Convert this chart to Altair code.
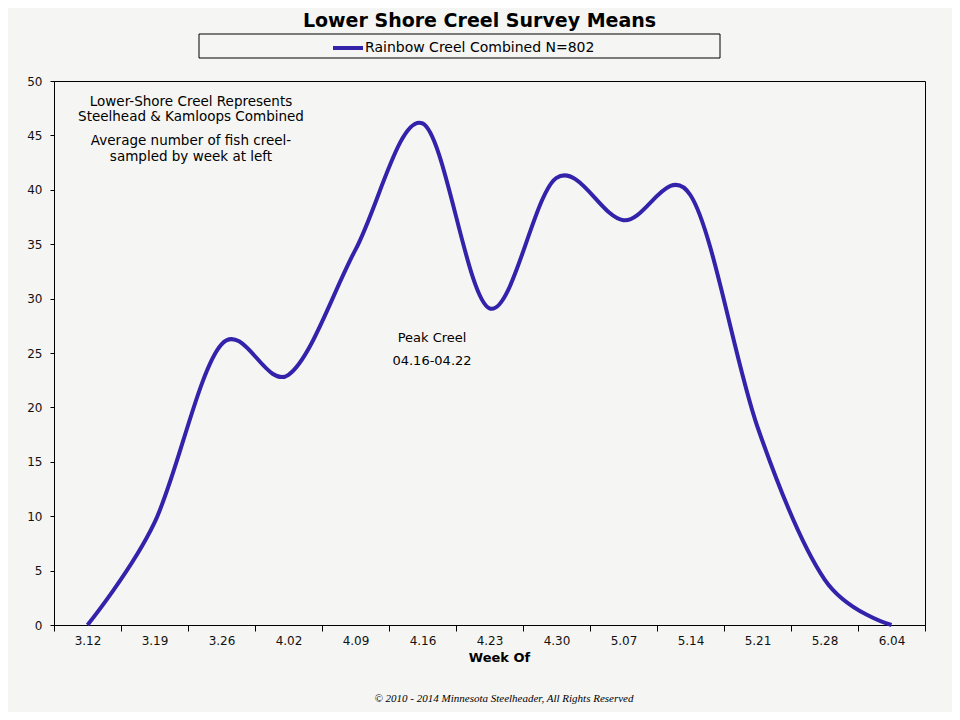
import altair as alt
import pandas as pd

# weekly mean creel counts
weeks = ["3.12", "3.19", "3.26", "4.02", "4.09", "4.16", "4.23",
         "4.30", "5.07", "5.14", "5.21", "5.28", "6.04"]
means = [0, 9.4, 25.8, 23.0, 34.5, 46.1, 29.1, 41.1, 37.2, 39.5, 18.2, 4.2, 0]
series_name = "Rainbow Creel Combined N=802"

note_top = ["Lower-Shore  Creel Represents", "Steelhead & Kamloops Combined"]
note_mid = ["Average  number  of  fish  creel-", "sampled by week at left"]
note_peak = ["Peak Creel", "04.16-04.22"]
copyright_txt = "\u00a9 2010 - 2014  Minnesota Steelheader,  All Rights Reserved"

df = pd.DataFrame({"week": weeks, "mean": means, "series": series_name})
one = pd.DataFrame({"k": [0]})

W, H = 871, 544
FONT = "DejaVu Sans"
LINE_COLOR = "#3322aa"

line = (
    alt.Chart(df)
    .mark_line(interpolate="cardinal", strokeWidth=4)
    .encode(
        x=alt.X("week:O", sort=weeks,
                scale=alt.Scale(type="band", paddingInner=0, paddingOuter=0),
                axis=alt.Axis(title="Week Of", tickBand="extent", labelAngle=0,
                              titleX=445, titleY=32, titleBaseline="middle")),
        y=alt.Y("mean:Q", scale=alt.Scale(domain=[0, 50], nice=False),
                axis=alt.Axis(title=None, values=list(range(0, 51, 5)))),
        color=alt.Color("series:N",
                        scale=alt.Scale(domain=[series_name], range=[LINE_COLOR]),
                        legend=alt.Legend(title=None, orient="none", legendX=277, legendY=-50,
                                          symbolType="stroke", symbolSize=900,
                                          symbolStrokeWidth=4, padding=0, labelOffset=0,
                                          labelLimit=400, labelFont=FONT, labelFontSize=14,
                                          labelColor="black")),
    )
)

# frame round the legend
legend_box = (
    alt.Chart(one)
    .mark_rect(fillOpacity=0, stroke="black", strokeWidth=1)
    .encode(x=alt.value(145), x2=alt.value(666), y=alt.value(-47), y2=alt.value(-23))
)


def note(lines, x, y, lh, size):
    return (
        alt.Chart(one)
        .mark_text(text=lines, font=FONT, fontSize=size, color="black",
                   align="center", baseline="middle", lineHeight=lh)
        .encode(x=alt.value(x), y=alt.value(y))
    )


copyright_mark = (
    alt.Chart(one)
    .mark_text(text=copyright_txt, font="Liberation Sans Narrow", fontSize=11,
               fontStyle="italic", color="black", align="center", baseline="middle")
    .encode(x=alt.value(450), y=alt.value(618))
)

chart = (
    alt.layer(line, legend_box,
              note(note_top, 137, 20.5, 15, 13.5),
              note(note_mid, 137, 60, 16, 13.5),
              note(note_peak, 378, 256.5, 23, 13),
              copyright_mark)
    .properties(
        width=W, height=H,
        autosize=alt.AutoSizeParams(type="none"),
        padding={"left": 46, "top": 73, "right": 27, "bottom": 87},
        background="#f5f5f3",
        title=alt.Title("Lower Shore Creel Survey Means", font=FONT, fontSize=19,
                        fontWeight="bold", color="black", anchor="middle",
                        frame="group", dx=-10, dy=19, offset=4, baseline="alphabetic"),
    )
    .configure_view(stroke="black", strokeWidth=1)
    .configure_axis(grid=False, domainColor="black", tickColor="black",
                    labelFont=FONT, labelFontSize=12, labelColor="#111",
                    titleFont=FONT, titleFontSize=13, titleFontWeight="bold",
                    titleColor="black")
    .configure_axisX(tickSize=6, labelPadding=4)
    .configure_axisY(tickSize=4, labelPadding=8)
)

chart.save("out.html", embed_options={"renderer": "svg", "actions": False})
